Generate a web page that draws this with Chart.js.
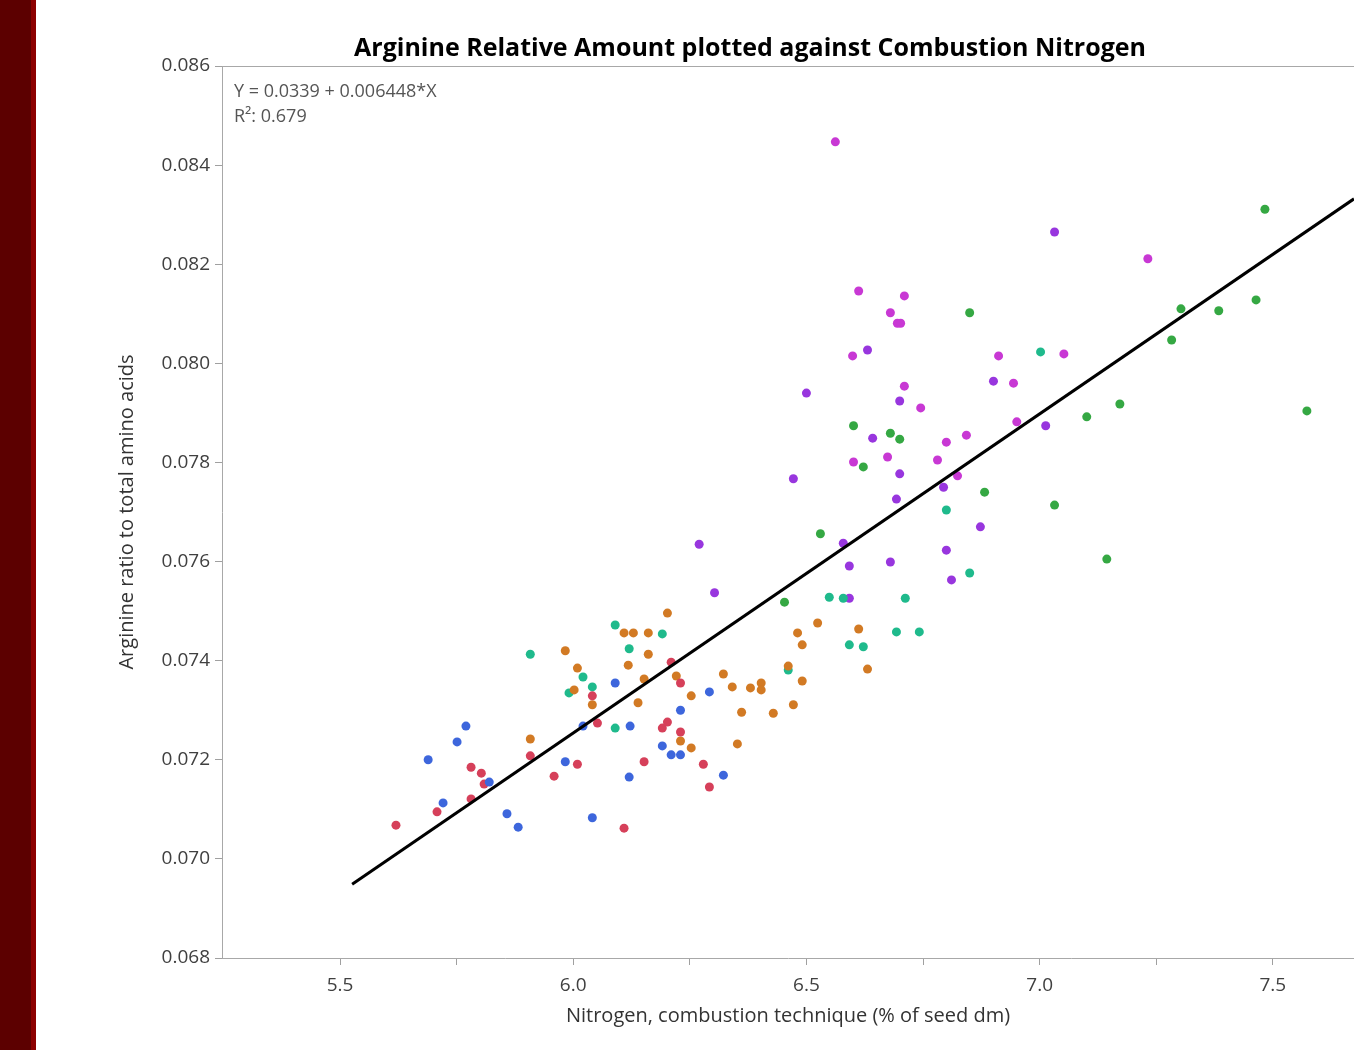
<!DOCTYPE html>
<html>
<head>
<meta charset="utf-8">
<script src="https://cdn.jsdelivr.net/npm/chart.js@4.4.1/dist/chart.umd.min.js"></script>
<style>
  body { margin: 0; background: #fff; }
  #wrap { position: relative; width: 1354px; height: 1050px; overflow: hidden; }
  #band { position: absolute; left: 0; top: 0; width: 31px; height: 1050px; background: #5c0000; }
  #band2 { position: absolute; left: 31px; top: 0; width: 5px; height: 1050px; background: #8c0000; }
  canvas { position: absolute; left: 0; top: 0; }
</style>
</head>
<body>
<div id="wrap">
  <canvas id="chart" width="1354" height="1050"></canvas>
  <div id="band"></div>
  <div id="band2"></div>
</div>
<script>
// values: x = nitrogen (% of seed dm), y = arginine ratio
const blueX = [5.689, 5.721, 5.751, 5.770, 5.820, 5.858, 5.882, 5.983, 6.021, 6.041, 6.090, 6.122, 6.120, 6.191, 6.210, 6.230, 6.230, 6.292, 6.322];
const blueY = [0.07200, 0.07113, 0.07236, 0.07268, 0.07155, 0.07091, 0.07064, 0.07196, 0.07268, 0.07083, 0.07355, 0.07268, 0.07165, 0.07228, 0.07210, 0.07210, 0.07300, 0.07337, 0.07169];

const redX = [5.620, 5.708, 5.781, 5.781, 5.803, 5.809, 5.908, 5.959, 6.009, 6.041, 6.052, 6.109, 6.152, 6.191, 6.202, 6.210, 6.230, 6.230, 6.279, 6.292];
const redY = [0.07068, 0.07095, 0.07121, 0.07185, 0.07173, 0.07151, 0.07208, 0.07167, 0.07191, 0.07329, 0.07274, 0.07062, 0.07196, 0.07264, 0.07276, 0.07397, 0.07355, 0.07256, 0.07191, 0.07145];

const orangeX = [5.908, 5.983, 6.009, 6.002, 6.041, 6.118, 6.109, 6.129, 6.161, 6.202, 6.161, 6.152, 6.221, 6.139, 6.253, 6.230, 6.253,
  6.352, 6.322, 6.341, 6.380, 6.403, 6.403, 6.361, 6.429, 6.472, 6.491, 6.461, 6.481, 6.491, 6.524, 6.612, 6.631];
const orangeY = [0.07242, 0.07420, 0.07385, 0.07341, 0.07311, 0.07391, 0.07456, 0.07456, 0.07456, 0.07496, 0.07413, 0.07363, 0.07369, 0.07315, 0.07329, 0.07238, 0.07224,
  0.07232, 0.07373, 0.07347, 0.07345, 0.07355, 0.07341, 0.07296, 0.07294, 0.07311, 0.07359, 0.07389, 0.07456, 0.07432, 0.07476, 0.07464, 0.07383];

const tealX = [5.908, 6.021, 6.041, 5.991, 6.120, 6.090, 6.191, 6.090, 6.461, 6.592, 6.622, 6.693, 6.742, 6.549, 6.579, 6.712, 6.850, 6.800, 7.002];
const tealY = [0.07413, 0.07367, 0.07347, 0.07335, 0.07424, 0.07472, 0.07454, 0.07264, 0.07381, 0.07432, 0.07428, 0.07458, 0.07458, 0.07528, 0.07526, 0.07526, 0.07577, 0.07704, 0.08023];

const greenX = [6.453, 6.530, 6.601, 6.622, 6.680, 6.700, 6.850, 6.882, 7.032, 7.101, 7.144, 7.172, 7.283, 7.303, 7.384, 7.464, 7.483, 7.573];
const greenY = [0.07518, 0.07656, 0.07874, 0.07791, 0.07859, 0.07847, 0.08102, 0.07740, 0.07714, 0.07892, 0.07605, 0.07918, 0.08047, 0.08110, 0.08106, 0.08128, 0.08311, 0.07904];

const magentaX = [6.562, 6.612, 6.710, 6.680, 6.695, 6.702, 6.599, 6.912, 7.052, 6.710, 6.944, 6.745, 6.951, 6.601, 6.674, 6.843, 6.800, 6.781, 6.824, 7.232];
const magentaY = [0.08447, 0.08146, 0.08136, 0.08102, 0.08081, 0.08081, 0.08015, 0.08015, 0.08019, 0.07954, 0.07960, 0.07910, 0.07882, 0.07801, 0.07811, 0.07855, 0.07841, 0.07805, 0.07773, 0.08211];

const violetX = [7.032, 6.631, 6.500, 6.700, 6.901, 7.013, 6.642, 6.700, 6.693, 6.794, 6.472, 6.270, 6.303, 6.579, 6.592, 6.592, 6.680, 6.800, 6.811, 6.873];
const violetY = [0.08265, 0.08027, 0.07940, 0.07924, 0.07964, 0.07874, 0.07849, 0.07777, 0.07726, 0.07750, 0.07767, 0.07635, 0.07537, 0.07637, 0.07591, 0.07526, 0.07599, 0.07623, 0.07563, 0.07670];

// fitted line end points as drawn
const fitX = [5.526, 7.674];
const fitY = [0.06949, 0.08332];

const xTicks = [5.5, 5.75, 6.0, 6.25, 6.5, 6.75, 7.0, 7.25, 7.5];
const yTicks = [0.068, 0.070, 0.072, 0.074, 0.076, 0.078, 0.080, 0.082, 0.084, 0.086];

const titleText = 'Arginine Relative Amount plotted against Combustion Nitrogen';
const eqText = 'Y = 0.0339 + 0.006448*X';
const r2Text = 'R²: 0.679';

const FONT = '"Open Sans", "Noto Sans", sans-serif';

const pts = (xs, ys) => xs.map((x, i) => ({ x: x, y: ys[i] }));

const group = (xs, ys, color) => ({
  type: 'scatter',
  data: pts(xs, ys),
  backgroundColor: color,
  borderWidth: 0,
  pointRadius: 4.5,
  order: 1
});

// title, equation and the top frame line
const annotate = {
  id: 'annotate',
  afterDraw(chart) {
    const { ctx, chartArea } = chart;
    ctx.save();
    ctx.strokeStyle = '#a8a8a8';
    ctx.lineWidth = 1;
    ctx.beginPath();
    ctx.moveTo(chartArea.left, chartArea.top + 0.5);
    ctx.lineTo(chartArea.right, chartArea.top + 0.5);
    ctx.stroke();

    ctx.fillStyle = '#000';
    ctx.font = 'bold 25px ' + FONT;
    ctx.textAlign = 'center';
    ctx.textBaseline = 'middle';
    ctx.fillText(titleText, 750, 49);

    ctx.fillStyle = '#555';
    ctx.font = '18px ' + FONT;
    ctx.textAlign = 'left';
    ctx.fillText(eqText, chartArea.left + 12, 92);
    ctx.fillText(r2Text, chartArea.left + 12, 117);
    ctx.restore();
  }
};

new Chart(document.getElementById('chart'), {
  data: {
    datasets: [
      {
        type: 'line',
        data: pts(fitX, fitY),
        borderColor: '#000',
        borderWidth: 3,
        pointRadius: 0,
        fill: false,
        order: 0
      },
      group(blueX, blueY, '#3d66dc'),
      group(redX, redY, '#d6405a'),
      group(orangeX, orangeY, '#d27a24'),
      group(tealX, tealY, '#1fba8c'),
      group(greenX, greenY, '#35a843'),
      group(magentaX, magentaY, '#c838d4'),
      group(violetX, violetY, '#9836de')
    ]
  },
  options: {
    responsive: false,
    animation: false,
    layout: { autoPadding: false, padding: { left: 100, top: 66, right: 0, bottom: 0 } },
    plugins: { legend: { display: false }, tooltip: { enabled: false } },
    scales: {
      x: {
        type: 'linear',
        min: 5.247,
        max: 7.674,
        afterBuildTicks: axis => { axis.ticks = xTicks.map(v => ({ value: v })); },
        afterFit: axis => { axis.height = 92; },
        ticks: {
          autoSkip: false,
          maxRotation: 0,
          padding: 9,
          color: '#404040',
          font: { family: FONT, size: 19 },
          callback: v => (Math.round(v * 2) === v * 2 ? v.toFixed(1) : '')
        },
        grid: { drawOnChartArea: false, tickLength: 7, color: '#a0a0a0' },
        border: { color: '#a8a8a8' },
        title: {
          display: true,
          text: 'Nitrogen, combustion technique (% of seed dm)',
          color: '#333',
          font: { family: FONT, size: 20 },
          padding: { top: 0, bottom: 22 }
        }
      },
      y: {
        type: 'linear',
        min: 0.068,
        max: 0.086,
        afterBuildTicks: axis => { axis.ticks = yTicks.map(v => ({ value: v })); },
        afterFit: axis => { axis.width = 122; },
        ticks: {
          padding: 5,
          color: '#404040',
          font: { family: FONT, size: 19 },
          callback: v => v.toFixed(3)
        },
        grid: { drawOnChartArea: false, tickLength: 7, color: '#a0a0a0' },
        border: { color: '#a8a8a8' },
        title: {
          display: true,
          text: 'Arginine ratio to total amino acids',
          color: '#333',
          font: { family: FONT, size: 20 },
          padding: { top: 15, bottom: 0 }
        }
      }
    }
  },
  plugins: [annotate]
});
</script>
</body>
</html>
